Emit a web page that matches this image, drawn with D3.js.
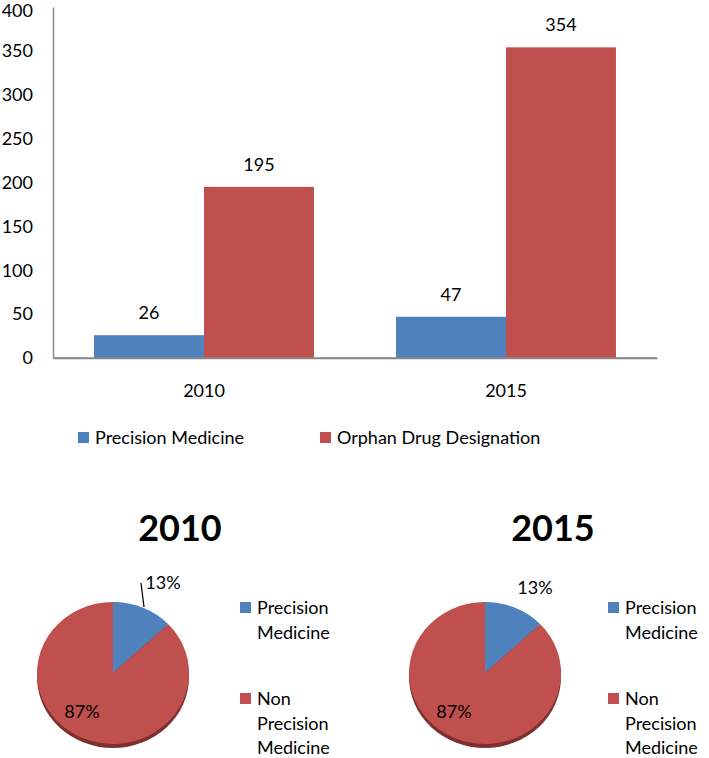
<!DOCTYPE html>
<html><head><meta charset="utf-8">
<script src="https://cdn.jsdelivr.net/npm/d3@7"></script>
<style>body{margin:0;background:#fff}svg{display:block}text{font-family:Lato,"Open Sans",sans-serif}</style>
</head><body>
<svg id="c" width="709" height="758"></svg>
<script>
const years = ["2010", "2015"];
const seriesNames = ["Precision Medicine", "Orphan Drug Designation"];
const precisionMedicine = [26, 47];
const orphanDrug = [195, 354];
const yTicks = [0, 50, 100, 150, 200, 250, 300, 350, 400];
const pieLabels = ["Precision Medicine", "Non Precision Medicine"];
const pie2010 = [13, 87];
const pie2015 = [13, 87];
const colors = ["#4F81BD", "#C0504D"];

const svg = d3.select("#c");
const fs = 18;

// Bar chart
const x0 = d3.scaleBand().domain(years).range([53, 657]).paddingInner(0).paddingOuter(0);
const x1 = d3.scaleBand().domain(seriesNames).range([0, x0.bandwidth()]).paddingInner(0).paddingOuter(0.373);
const y = d3.scaleLinear().domain([0, 400]).range([358, 7]);

const yAxis = svg.append("g").attr("transform", "translate(53,0)")
  .call(d3.axisLeft(y).tickValues(yTicks).tickSize(0).tickPadding(20));
yAxis.select(".domain").attr("stroke", "#888").attr("stroke-width", 1.5);
yAxis.selectAll("text").attr("font-size", fs).attr("fill", "#000").style("font-family", "Lato")
  .attr("dy", d => d === 400 ? "0.5em" : "0.32em");

const xAxis = svg.append("g").attr("transform", "translate(0,358)")
  .call(d3.axisBottom(x0).tickSize(0).tickPadding(26));
xAxis.select(".domain").attr("stroke", "#888").attr("stroke-width", 1.5);
xAxis.selectAll("text").attr("font-size", fs).attr("fill", "#000").style("font-family", "Lato");

const barData = years.map((yr, i) => ({ year: yr, vals: [precisionMedicine[i], orphanDrug[i]] }));
const groups = svg.append("g").selectAll("g").data(barData).join("g")
  .attr("transform", d => `translate(${x0(d.year)},0)`);
groups.selectAll("rect").data(d => d.vals.map((v, j) => ({ v, j }))).join("rect")
  .attr("x", d => x1(seriesNames[d.j]))
  .attr("width", x1.bandwidth())
  .attr("y", d => y(d.v))
  .attr("height", d => y(0) - y(d.v))
  .attr("fill", d => colors[d.j]);
groups.selectAll("text.val").data(d => d.vals.map((v, j) => ({ v, j }))).join("text")
  .attr("class", "val")
  .attr("x", d => x1(seriesNames[d.j]) + x1.bandwidth() / 2)
  .attr("y", d => y(d.v) - 16)
  .attr("text-anchor", "middle")
  .attr("font-size", fs)
  .text(d => d.v);
svg.append("line").attr("x1", 53).attr("x2", 657).attr("y1", 358).attr("y2", 358).attr("stroke", "#888").attr("stroke-width", 1.5);

// Bar legend
const legX = [78, 320];
seriesNames.forEach((n, i) => {
  svg.append("rect").attr("x", legX[i]).attr("y", 432).attr("width", 11).attr("height", 11).attr("fill", colors[i]);
  svg.append("text").attr("x", legX[i] + 17).attr("y", 444).attr("font-size", fs).text(n);
});

// Pies
function drawPie(cx, titleX, legXp, data, title, showLeader) {
  const cy = 673, rx = 76, ry = 71;
  svg.append("text").attr("x", titleX).attr("y", 541).attr("text-anchor", "middle")
    .attr("font-size", 36).attr("font-weight", "bold").text(title);
  svg.append("ellipse").attr("cx", cx).attr("cy", cy + 4).attr("rx", rx).attr("ry", ry)
    .attr("fill", "#7d302e");
  const pie = d3.pie().sort(null).value(d => d);
  const arc = d3.arc().innerRadius(0).outerRadius(1);
  const g = svg.append("g").attr("transform", `translate(${cx},${cy}) scale(${rx},${ry})`);
  g.selectAll("path").data(pie(data)).join("path").attr("d", arc).attr("fill", (d, i) => colors[i]);
  svg.append("text").attr("x", cx + 50).attr("y", showLeader ? 589 : 594).attr("text-anchor", "middle").attr("font-size", fs)
    .text(data[0] + "%");
  svg.append("text").attr("x", cx - 31).attr("y", 718).attr("text-anchor", "middle").attr("font-size", fs)
    .text(data[1] + "%");
  if (showLeader) {
    svg.append("line").attr("x1", cx + 31).attr("y1", 607).attr("x2", cx + 28).attr("y2", 583)
      .attr("stroke", "#000").attr("stroke-width", 1.3);
  }
  const lines = [["Precision", "Medicine"], ["Non", "Precision", "Medicine"]];
  const sqY = [602, 693];
  lines.forEach((ls, i) => {
    svg.append("rect").attr("x", legXp).attr("y", sqY[i]).attr("width", 11).attr("height", 11).attr("fill", colors[i]);
    ls.forEach((t, k) => {
      svg.append("text").attr("x", legXp + 17).attr("y", sqY[i] + 12 + k * 24.5).attr("font-size", fs).text(t);
    });
  });
}
drawPie(113, 180, 240, pie2010, years[0], true);
drawPie(485, 553, 608, pie2015, years[1], false);
</script>
</body></html>
